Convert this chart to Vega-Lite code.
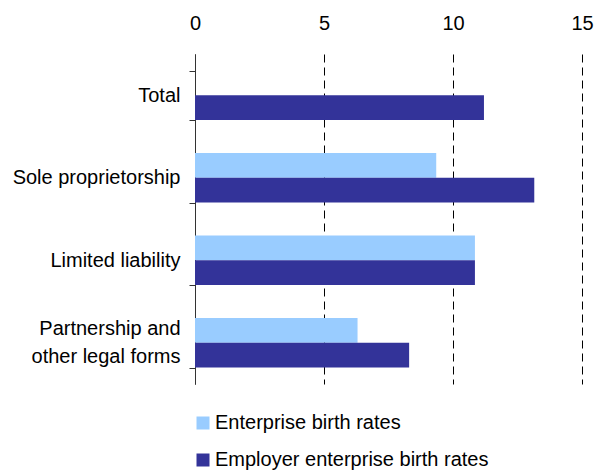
{
  "$schema": "https://vega.github.io/schema/vega-lite/v6.json",
  "width": 387,
  "height": 330,
  "autosize": "none",
  "padding": {"left": 195, "top": 54, "right": 21, "bottom": 87},
  "background": "white",
  "config": {"view": {"stroke": null}, "font": "Liberation Sans"},
  "data": {"values": [
    {"category": "Total", "series": "Employer enterprise birth rates", "value": 11.2},
    {"category": "Sole proprietorship", "series": "Enterprise birth rates", "value": 9.35},
    {"category": "Sole proprietorship", "series": "Employer enterprise birth rates", "value": 13.15},
    {"category": "Limited liability", "series": "Enterprise birth rates", "value": 10.85},
    {"category": "Limited liability", "series": "Employer enterprise birth rates", "value": 10.85},
    {"category": "Partnership and other legal forms", "series": "Enterprise birth rates", "value": 6.3},
    {"category": "Partnership and other legal forms", "series": "Employer enterprise birth rates", "value": 8.3}
  ]},
  "mark": {"type": "bar"},
  "encoding": {
    "y": {
      "field": "category", "type": "nominal",
      "sort": ["Total", "Sole proprietorship", "Limited liability", "Partnership and other legal forms"],
      "scale": {"paddingInner": 0.4, "paddingOuter": 0.2},
      "axis": {
        "title": null, "orient": "left",
        "labelExpr": "datum.label == 'Partnership and other legal forms' ? ['Partnership and', 'other legal forms'] : datum.label",
        "labelOffset": {"condition": {"test": "datum.value == 'Partnership and other legal forms'", "value": -14}, "value": 0},
        "labelFontSize": 20, "labelColor": "#000", "labelPadding": 9, "labelLineHeight": 28,
        "labelLimit": 300,
        "tickBand": "extent", "tickSize": 6, "tickColor": "#333", "domainColor": "#333",
        "grid": false
      }
    },
    "yOffset": {
      "field": "series", "type": "nominal",
      "sort": ["Enterprise birth rates", "Employer enterprise birth rates"],
      "scale": {"paddingInner": 0, "paddingOuter": 0}
    },
    "x": {
      "field": "value", "type": "quantitative",
      "scale": {"domain": [0, 15], "nice": false},
      "axis": {
        "title": null, "orient": "top", "values": [0, 5, 10, 15],
        "domain": false, "ticks": false, "labelFontSize": 20, "labelColor": "#000",
        "labelPadding": 21, "labelFlush": false,
        "grid": true, "gridColor": "#000", "gridDash": [8, 5], "gridOpacity": 1,
        "gridWidth": 1
      }
    },
    "color": {
      "field": "series", "type": "nominal",
      "sort": ["Enterprise birth rates", "Employer enterprise birth rates"],
      "scale": {"range": ["#99CCFF", "#333399"]},
      "legend": {
        "title": null, "orient": "none", "legendX": -2, "legendY": 359,
        "direction": "vertical",
        "symbolType": "square", "symbolSize": 169, "symbolStrokeWidth": 0,
        "labelFontSize": 20, "labelColor": "#000", "rowPadding": 17,
        "labelOffset": 2, "labelLimit": 400
      }
    }
  }
}
